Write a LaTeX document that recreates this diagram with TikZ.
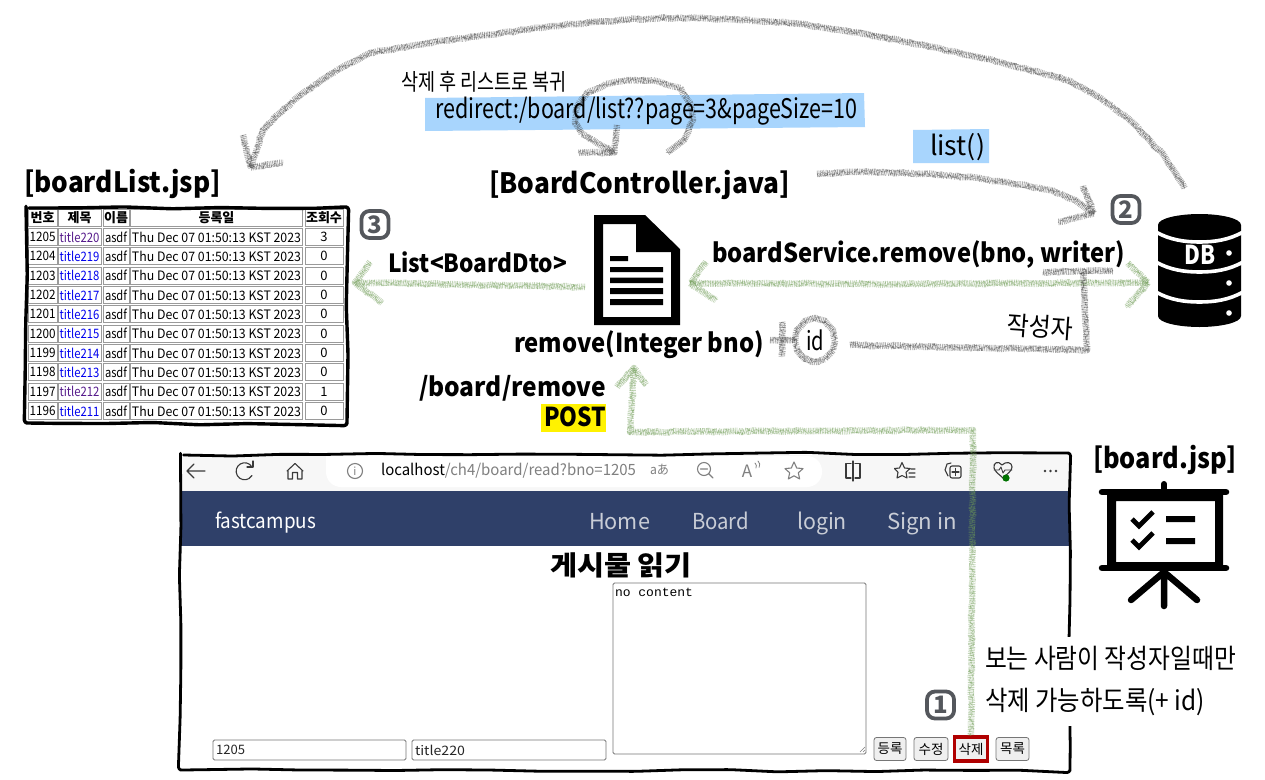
\documentclass[tikz,border=0pt]{standalone}
\usepackage{fontspec}
\usepackage{graphicx}
\setmainfont{Noto Sans CJK KR}
\setmonofont{Liberation Mono}
\usetikzlibrary{calc,decorations.pathmorphing,shapes.geometric}
\definecolor{hlblue}{HTML}{A8D5FD}
\definecolor{navbg}{HTML}{2F4069}
\definecolor{navtx}{HTML}{C9CDD6}
\definecolor{chromebg}{HTML}{F7F7F7}
\definecolor{iconc}{HTML}{3A3A3A}
\definecolor{badge}{HTML}{54575C}
\definecolor{chalkgray}{HTML}{3C3C3C}
\definecolor{chalkgreen}{HTML}{6F9C55}
\definecolor{visited}{HTML}{551A8B}
\definecolor{linkblue}{HTML}{0000EE}
\definecolor{cellb}{HTML}{9A9A9A}
\definecolor{ctrlb}{HTML}{767676}
\definecolor{btnbg}{HTML}{EFEFEF}
\definecolor{delred}{HTML}{B00000}
\newcommand{\fitw}[3]{{\fontsize{#2}{#2}\selectfont\resizebox{#1pt}{\height}{#3}}}
\tikzset{
  lbl/.style={inner sep=0pt,outer sep=0pt},
  chalk/.style={line cap=butt,line join=round,
    postaction={draw=#1,line width=6.5pt,opacity=.42,dash pattern=on .8pt off .9pt,decorate,decoration={random steps,segment length=4pt,amplitude=.8pt}},
    postaction={draw=#1,line width=.55pt,opacity=.45,dash pattern=on 3pt off 1pt,decorate,decoration={random steps,segment length=1.5pt,amplitude=3.2pt}},
    postaction={draw=#1,line width=.55pt,opacity=.4,dash pattern=on 2pt off 1pt,decorate,decoration={random steps,segment length=2pt,amplitude=2.8pt}}},
  wobble/.style={draw=black,line join=round,line cap=round,decorate,rounded corners=3pt,
    decoration={random steps,segment length=48pt,amplitude=1.3pt}},
  iconbox/.style={inner sep=0pt,outer sep=0pt,rectangle},
  stepbadge/.style={draw=badge,line width=3.8pt,rounded corners=8pt,minimum width=27pt,minimum height=27pt,
    inner sep=0pt,text=badge,font=\fontsize{24}{24}\selectfont\bfseries},
  cellbox/.style={draw=cellb,line width=1pt,fill=white},
  ctrlbox/.style={draw=ctrlb,line width=.8pt,rounded corners=1.5pt,fill=white},
  btnbox/.style={draw=ctrlb,line width=.8pt,rounded corners=2.5pt,fill=btnbg,inner sep=0pt,
    font=\fontsize{13.5}{13.5}\selectfont},
  ticon/.style={draw=iconc,line width=1.1pt,line cap=round,line join=round},
  gicon/.style={draw=gray,line width=1.1pt,line cap=round,line join=round},
}
\begin{document}
\begin{tikzpicture}[x=1pt,y=-1pt]
\pgfmathsetseed{4711}
\useasboundingbox (0,0) rectangle (1265,779);
\fill[white] (0,0) rectangle (1265,779);

% ---------- browser ----------
\fill[chromebg] (181,455) rectangle (1069,491);
\fill[white,rounded corners=15pt] (326,456) -- (326,487) -- (822,487) -- (822,456) [sharp corners] -- cycle;
\fill[navbg] (181,491) rectangle (1069,546);
\node[lbl,anchor=base west,text=white] (brand) at (215,528) {\fitw{101}{20.5}{fastcampus}};
\node[lbl,anchor=base west,text=navtx] (navhome) at (589,529) {\fitw{61}{22}{Home}};
\node[lbl,anchor=base west,text=navtx] (navboard) at (692,529) {\fitw{57}{22}{Board}};
\node[lbl,anchor=base west,text=navtx] (navlogin) at (797,529) {\fitw{50}{22}{login}};
\node[lbl,anchor=base west,text=navtx] (navsign) at (887,529) {\fitw{70}{22}{Sign in}};
\node[lbl,anchor=west] (urltxt) at (381,471) {\fitw{255}{15.5}{localhost\textcolor{gray}{/ch4/board/read?bno=1205}}};
\node[lbl,anchor=west,text=gray] (aa) at (650,470) {\fitw{19}{13}{aあ}};
% chrome icons, left
\draw[ticon] (205,471) -- (187,471) (194,464) -- (187,471) -- (194,478);
\draw[ticon] (252,467) arc[start angle=-30,end angle=-330,radius=8.5];
\draw[ticon] (253,461) -- (253,467) -- (247,467);
\draw[ticon] (287,471) -- (295,463.5) -- (303,471) (288,471) -- (288,479) -- (292.5,479) -- (292.5,472.5) -- (297.5,472.5) -- (297.5,479) -- (302,479) -- (302,471);
\draw[gicon] (355,471) circle[radius=7.5];
\node[lbl,text=gray] (infoi) at (355,471) {\fontsize{11}{11}\selectfont i};
% chrome icons, right
\draw[gicon] (704,469) circle[radius=6.5] (700.5,469) -- (707.5,469) (709,474) -- (713,478);
\node[lbl,text=gray] (readA) at (747,471) {\fontsize{17}{17}\selectfont A};
\draw[gicon,line width=.8pt] (755,463) arc[start angle=-50,end angle=30,radius=4] (758,461) arc[start angle=-50,end angle=30,radius=5];
\draw[gicon] (794,462) -- (796.7,468) -- (803,468.6) -- (798.3,472.8) -- (799.7,479) -- (794,475.8) -- (788.3,479) -- (789.7,472.8) -- (785,468.6) -- (791.3,468) -- cycle;
\draw[ticon] (851,463.5) -- (846,463.5) -- (846,478) -- (851,478) (853,461) -- (853,481) (855,463.5) -- (860,463.5) -- (860,478) -- (855,478);
\draw[ticon] (902,462.5) -- (904.5,468) -- (910,468.5) -- (906,472.3) -- (907,478) -- (902,475.5) -- (897,478) -- (898,472.3) -- (894.5,468.5) -- (899.5,468) -- cycle (909,473) -- (915,473) (911,469) -- (915,469) (909,477) -- (915,477);
\draw[ticon] (951,463) -- (947,464) -- (945,470) -- (948,476);
\draw[ticon,rounded corners=2pt] (950,466) rectangle (961,478);
\draw[ticon] (955.5,468.5) -- (955.5,475.5) (952,472) -- (959,472);
\draw[ticon] (1002,465) .. controls (998,460) and (993,463) .. (994,468) .. controls (995,472) and (1000,475) .. (1003,478) .. controls (1007,474) and (1012,471) .. (1012,467) .. controls (1012,462) and (1006,461) .. (1002,465);
\draw[ticon,line width=.9pt] (994,470) -- (999,470) -- (1001,467) -- (1003,473) -- (1005,470) -- (1012,470);
\fill[green!45!black] (1006,478) circle[radius=3.6];
\fill[iconc] (1045,471) circle[radius=1.3] (1050.5,471) circle[radius=1.3] (1056,471) circle[radius=1.3];

% page content
\node[lbl] (pagetitle) at (621,565) {\bfseries\fitw{142}{27}{게시물 읽기}};
\node[ctrlbox,lbl,draw=ctrlb,minimum width=253pt,minimum height=171pt,rounded corners=1.5pt,fill=white] (txta) at (739.5,668.5) {};
\node[lbl,anchor=west] (txtc) at (615,592.5) {\ttfamily\fitw{78}{12.5}{no content}};
\draw[gray,line width=.6pt] (860,752) -- (865,747) (863,752) -- (865,750);
\node[ctrlbox,lbl,minimum width=193pt,minimum height=20pt] (inno) at (309.5,750) {};
\node[lbl,anchor=west,text=black!85] (innot) at (216,750) {\fitw{29}{13}{1205}};
\node[ctrlbox,lbl,minimum width=194pt,minimum height=20pt] (intitle) at (509,750) {};
\node[lbl,anchor=west,text=black!85] (intitlet) at (415,750) {\fitw{50}{13}{title220}};
\node[btnbox,minimum width=32pt,minimum height=23pt] (bregister) at (890,749) {등록};
\node[btnbox,minimum width=34pt,minimum height=23pt] (bedit) at (931,749) {수정};
\node[btnbox,minimum width=33pt,minimum height=24pt,draw=delred,line width=3.4pt,rounded corners=0pt] (bdelete) at (971,749) {삭제};
\node[btnbox,minimum width=33pt,minimum height=23pt] (blist) at (1012.5,749) {목록};

% browser frame
\draw[wobble,line width=2.8pt] (180.5,455) -- (1069,453) -- (1070,771) -- (180,770) -- cycle;
\fill[white] (976,637) rectangle (1242,726);

% ---------- highlights ----------
\fill[hlblue] (425,98) -- (864,93) -- (865,127) -- (425,131) -- cycle;
\fill[hlblue] (913,130) -- (989,129) -- (989,163) -- (913,163) -- cycle;
\fill[yellow] (541,404) rectangle (606,432);

% ---------- headings ----------
\node[lbl,anchor=west] (tlist) at (24,184) {\bfseries\fitw{197}{28}{[boardList.jsp]}};
\node[lbl,anchor=west] (tctrl) at (489,185) {\bfseries\fitw{301}{28}{[BoardController.java]}};
\node[lbl,anchor=west] (tboard) at (1093,460) {\bfseries\fitw{144}{28}{[board.jsp]}};

% ---------- list table ----------
\node[iconbox,minimum width=321pt,minimum height=216pt] (tablenode) at (186.5,315.5) {};
\newcommand{\hdrcell}[4]{%
  \node[cellbox,lbl,minimum width=#2pt,minimum height=16.5pt,font=\fontsize{13}{13}\selectfont\bfseries] (#4) at (#1,218) {#3};}
\hdrcell{42.5}{29}{번호}{hA}
\hdrcell{79.5}{43}{제목}{hB}
\hdrcell{116}{26}{이름}{hC}
\hdrcell{216.5}{172}{등록일}{hD}
\hdrcell{324}{38}{조회수}{hE}
\foreach \rr/\nn/\tt/\vv/\cc in {0/1205/220/3/visited,1/1204/219/0/linkblue,2/1203/218/0/linkblue,3/1202/217/0/linkblue,4/1201/216/0/linkblue,5/1200/215/0/linkblue,6/1199/214/0/linkblue,7/1198/213/0/linkblue,8/1197/212/1/visited,9/1196/211/0/linkblue}{
  \pgfmathsetmacro{\yy}{237+19.33*\rr}
  \node[cellbox,lbl,minimum width=29pt,minimum height=17pt] (cA\rr) at (42.5,\yy) {\fitw{26}{13}{\nn}};
  \node[cellbox,lbl,minimum width=43pt,minimum height=17pt,text=\cc] (cB\rr) at (79.5,\yy) {\fitw{40}{13}{title\tt}};
  \node[cellbox,lbl,minimum width=26pt,minimum height=17pt] (cC\rr) at (116,\yy) {\fitw{22}{13}{asdf}};
  \node[cellbox,lbl,minimum width=172pt,minimum height=17pt] (cD\rr) at (216.5,\yy) {\fitw{169}{13}{Thu Dec 07 01:50:13 KST 2023}};
  \node[cellbox,lbl,minimum width=38pt,minimum height=17pt] (cE\rr) at (324,\yy) {\fontsize{13}{13}\selectfont\vv};
}
\draw[wobble,line width=3.4pt] (26,208) -- (347,207) -- (347,424) -- (26,423) -- cycle;

% ---------- icons ----------
\node[iconbox,minimum width=86pt,minimum height=110pt] (doc) at (637,270) {};
\fill[black,even odd rule] (594,215) -- (645,215) -- (680,249) -- (680,325) -- (594,325) -- cycle
  (603,224) -- (603,317) -- (671,317) -- (671,252) -- (636,252) -- (636,224) -- cycle;
\fill[black] (644,227) -- (644,244) -- (663,244) -- cycle;
\fill[black] (610,256) rectangle (628,261) (610,267) rectangle (663,272) (610,277.5) rectangle (663,283) (610,288) rectangle (663,294) (610,299) rectangle (663,305);

\node[iconbox,minimum width=83pt,minimum height=113pt] (db) at (1199.5,270.5) {};
\fill[black] (1158,225) .. controls (1158,218) and (1180,214) .. (1199.5,214) .. controls (1219,214) and (1241,218) .. (1241,225)
  -- (1241,316) .. controls (1241,323) and (1219,327) .. (1199.5,327) .. controls (1180,327) and (1158,323) .. (1158,316) -- cycle;
\foreach \by in {232,262,292}{
  \draw[white,line width=3.6pt] (1156,\by) .. controls (1170,\by+8) and (1185,\by+10) .. (1199.5,\by+10) .. controls (1214,\by+10) and (1229,\by+8) .. (1243,\by);
}
\fill[white] (1229,253) circle[radius=2.8] (1229,283) circle[radius=2.8] (1229,313) circle[radius=2.8];
\node[lbl,text=white] (dbtxt) at (1200,255) {\bfseries\fitw{31}{26}{DB}};

\node[iconbox,minimum width=128pt,minimum height=125pt] (boardicon) at (1164,546) {};
\begin{scope}[line cap=round,line join=round,black]
\fill[even odd rule] (1107,492) rectangle (1223,568) (1116,501) rectangle (1215,562);
\draw[line width=6.5pt] (1102,492) -- (1226,492) (1102,568) -- (1226,568);
\draw[line width=6pt] (1164,484) -- (1164,492);
\draw[line width=6.5pt] (1164,570) -- (1164,606) (1164,572) -- (1131,600) (1164,572) -- (1197,600);
\draw[line width=4.8pt,line cap=butt,line join=miter] (1132,519) -- (1139,526) -- (1153,512) (1132,540) -- (1139,547) -- (1153,533);
\fill (1166,516) rectangle (1195,522) (1166,538) rectangle (1195,544);
\end{scope}

% ---------- badges ----------
\node[stepbadge] (stepone) at (940.5,705) {1};
\node[stepbadge] (steptwo) at (1126,209.5) {2};
\node[stepbadge] (stepthree) at (375,224.5) {3};

% ---------- arrows ----------
% big arc DB -> list
\coordinate (arcS) at ($(db.north)+(-15,-26)$);
\coordinate (arcT) at ($(tablenode.north)+(64,-40)$);
\path[chalk=chalkgray] (arcS) -- (1165,157) -- (1133,123) -- (1102,99) -- (1067,80) -- (1000,62) -- (933,47) -- (866,34) -- (800,24) -- (750,20) -- (700,18) -- (660,18) -- (620,20) -- (553,26) -- (487,35) -- (428,43) -- (370,53) -- (337,70) -- (303,93) -- (280,113) -- (263,130) -- (arcT);
\path[chalk=chalkgray] (243,135) -- (arcT) -- (283,163);
% controller -> db
\coordinate (callS) at ($(tctrl.east)+(27,-11)$);
\coordinate (callT) at ($(db.west)+(-64,-57)$);
\path[chalk=chalkgray] (callS) -- (850,172) -- (883,172) -- (925,174) -- (967,177) -- (1010,183) -- (1050,190) -- (1075,200) -- (callT);
\path[chalk=chalkgray] (1083,186) -- (callT) -- (1058,222);
% self loop
\coordinate (loopS) at ($(tctrl.north)+(28,-18)$);
\coordinate (loopT) at ($(tctrl.north)+(-25,-18)$);
\path[chalk=chalkgray] (loopS) -- (684,140) -- (693,120) -- (690,103) -- (680,88) -- (656,81) -- (630,80) -- (606,84) -- (587,93) -- (577,107) -- (575,123) -- (582,134) -- (597,143) -- (loopT);
\path[chalk=chalkgray] (617,125) -- (loopT) -- (578,153);
% doc <-> db
\coordinate (dblL) at ($(doc.east)+(10,13)$);
\coordinate (dblR) at ($(db.west)+(-10,12)$);
\path[chalk=chalkgreen] (dblL) -- (900,284) -- (dblR);
\path[chalk=chalkgreen] (706,262) -- (dblL) -- (716,300);
\path[chalk=chalkgreen] (1128,263) -- (dblR) -- (1127,307);
% doc -> table
\coordinate (dtoS) at ($(doc.west)+(-9,17)$);
\coordinate (dtoT) at ($(tablenode.east)+(8,-33)$);
\path[chalk=chalkgreen] (dtoS) -- (dtoT);
\path[chalk=chalkgreen] (370,262) -- (dtoT) -- (382,303);
% delete -> remove
\coordinate (upT) at (634,368);
\path[chalk=chalkgreen] (bdelete.north) -- (973,430) -- (630,432) -- (upT);
\path[chalk=chalkgreen] (617,387) -- (upT) -- (646,385);
% writer
\node[lbl,minimum width=40pt,minimum height=44pt,ellipse] (idc) at (815,340) {\fitw{18}{26}{id}};
\path[chalk=chalkgray] (795,340) -- (797,330) -- (805,321) -- (815,318) -- (825,321) -- (833,330) -- (835,340) -- (833,350) -- (825,359) -- (815,362) -- (805,359) -- (797,350) -- cycle;
\path[chalk=chalkgray] ($(idc.east)+(15,5)$) -- (1087,350) -- (1083,272);
\path[chalk=chalkgray] (1043,272) -- (1113,271);
\path[chalk=chalkgray] (782,322) -- (782,357) (770,340) -- (795,340);

% ---------- labels ----------
\node[lbl,anchor=west] (lbto) at (388,262) {\bfseries\fitw{179}{25}{List<BoardDto>}};
\node[lbl,anchor=west] (lsvc) at (712,255) {\bfseries\fitw{413}{26}{boardService.remove(bno, writer)}};
\node[lbl,anchor=west] (lrm) at (514,345) {\bfseries\fitw{250}{26}{remove(Integer bno)}};
\node[lbl,anchor=east] (lurl) at (606,388) {\bfseries\fitw{187}{26}{/board/remove}};
\node[lbl,anchor=east] (lpost) at (606,417) {\bfseries\fitw{62}{26}{POST}};
\node[lbl,anchor=west] (hdel) at (401,82) {\fitw{166}{23}{삭제 후 리스트로 복귀}};
\node[lbl,anchor=west] (hred) at (435,111) {\fitw{422}{27}{redirect:/board/list??page=3\&pageSize=10}};
\node[lbl,anchor=west] (hlist) at (930,147) {\fitw{55}{27}{list()}};
\node[lbl,rotate=-4] (hwriter) at (1040,327) {\fitw{66}{26}{작성자}};
\node[lbl,anchor=west] (hnote) at (985,658) {\fitw{251}{27}{보는 사람이 작성자일때만}};
\node[lbl,anchor=west] (hnote2) at (985,702) {\fitw{220}{27}{삭제 가능하도록(+ id)}};
\end{tikzpicture}
\end{document}
